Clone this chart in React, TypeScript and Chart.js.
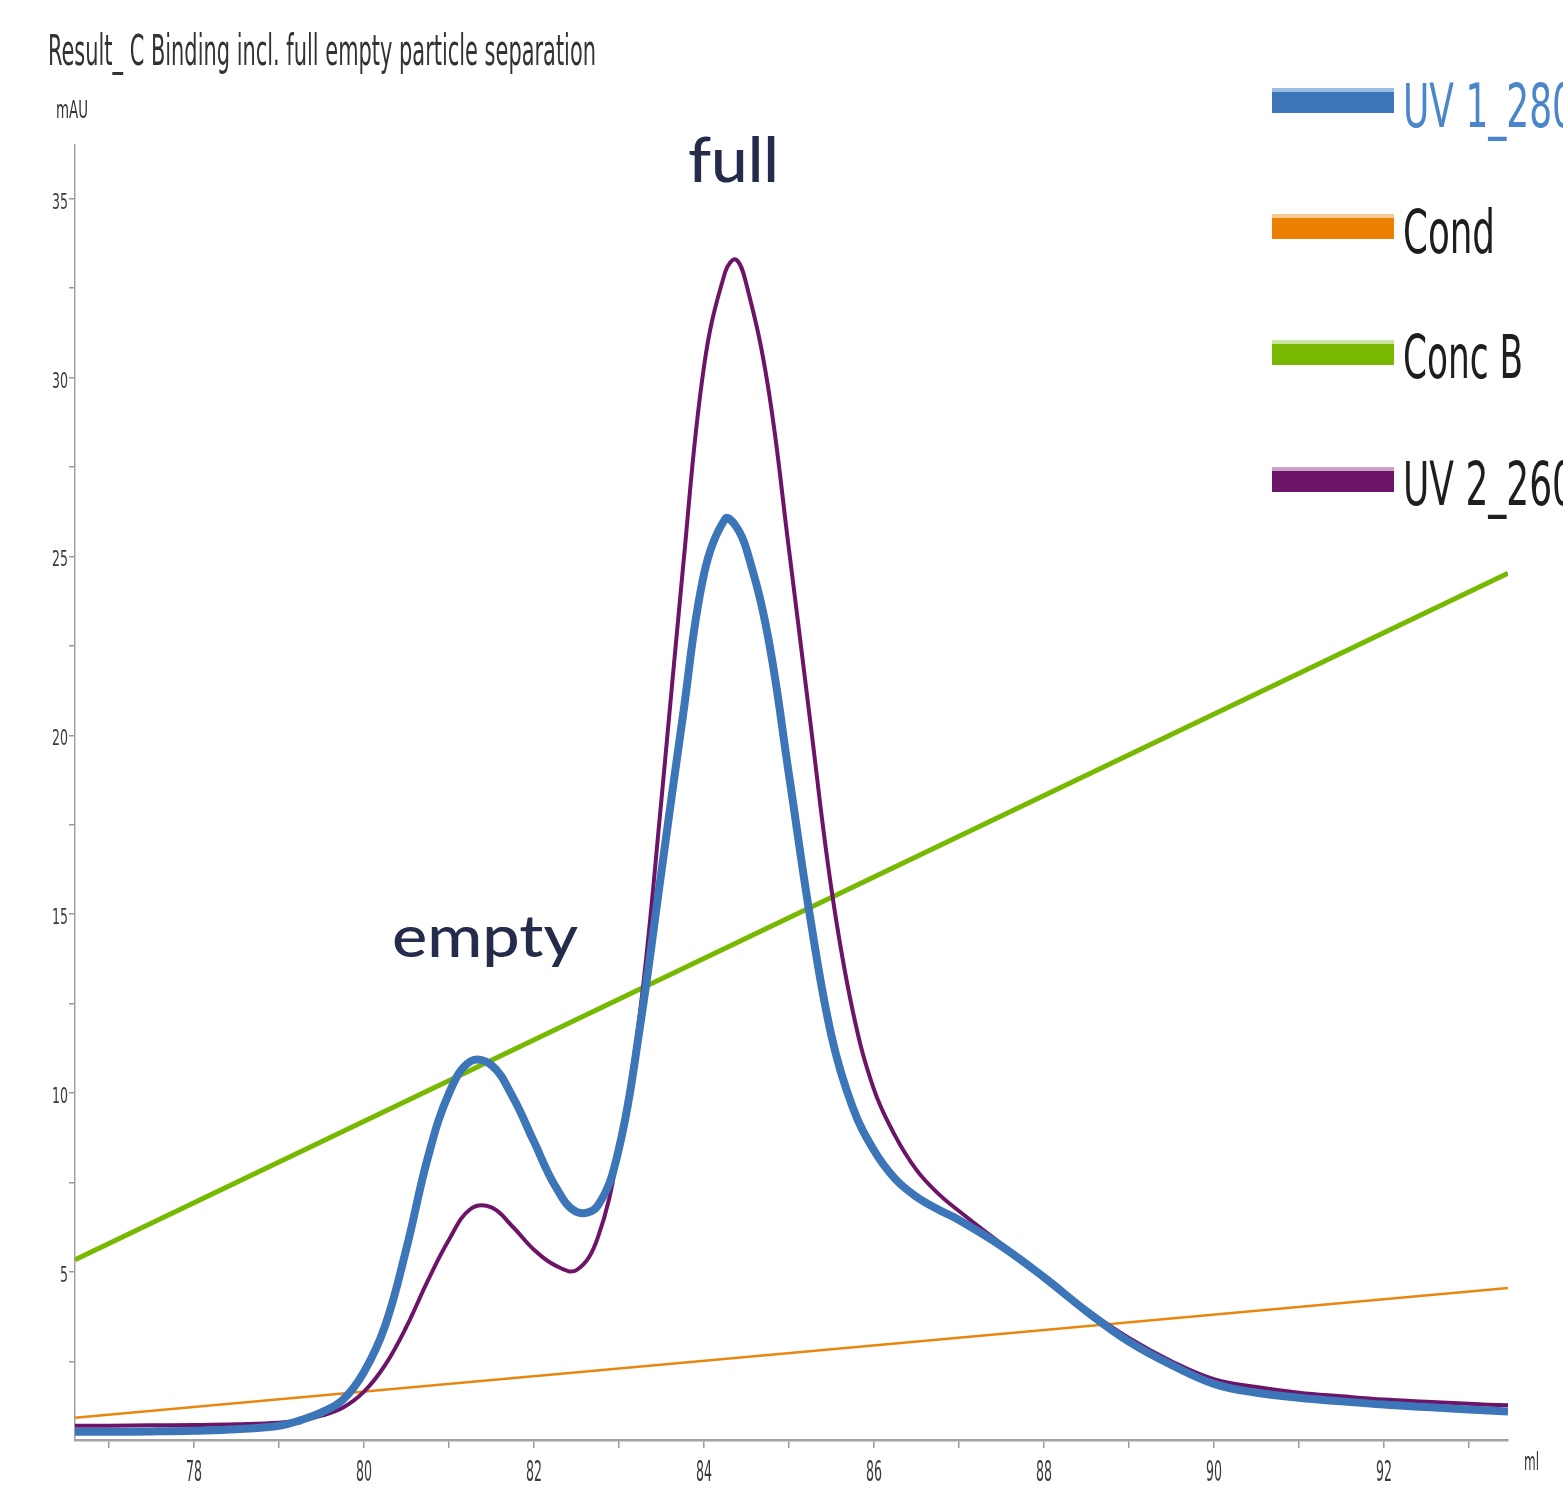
import React, { useEffect, useRef } from 'react';
import { Chart, registerables } from 'chart.js';

Chart.register(...registerables);

// Elution volume (ml)
const volumes = [
  76.6, 77, 77.5, 78, 78.5, 79, 79.25, 79.5, 79.75, 80,
  80.25, 80.5, 80.75, 81, 81.25, 81.5, 81.75, 82, 82.25, 82.5,
  82.75, 83, 83.25, 83.5, 83.75, 84, 84.25, 84.375, 84.5, 84.75,
  85, 85.25, 85.5, 85.75, 86, 86.25, 86.5, 86.75, 87, 87.5,
  88, 88.5, 89, 89.5, 90, 90.5, 91, 91.5, 92, 92.5,
  93, 93.46,
];

// UV 1_280 (mAU)
const uv1_280 = [
  0.53, 0.53, 0.54, 0.56, 0.6, 0.7, 0.85, 1.07, 1.42, 2.2,
  3.5, 5.66, 8.18, 9.99, 10.88, 10.78, 9.89, 8.64, 7.4, 6.68,
  6.85, 8.45, 11.9, 16.2, 20.5, 24.5, 26.05, 25.85, 25.2, 22.8,
  18.9, 14.9, 11.6, 9.6, 8.4, 7.6, 7.1, 6.75, 6.45, 5.72,
  4.85, 3.9, 3.05, 2.4, 1.87, 1.62, 1.48, 1.38, 1.29, 1.22,
  1.15, 1.1,
];

// UV 2_260 (mAU)
const uv2_260 = [
  0.7, 0.7, 0.71, 0.72, 0.74, 0.78, 0.85, 0.98, 1.2, 1.65,
  2.4, 3.47, 4.75, 5.9, 6.75, 6.8, 6.26, 5.62, 5.18, 5.05,
  5.95, 8.45, 12.3, 18.2, 24.6, 30.3, 32.95, 33.3, 32.6, 29.8,
  25.2, 20.4, 15.7, 12.3, 10.1, 8.8, 7.85, 7.2, 6.7, 5.78,
  4.88, 3.95, 3.15, 2.5, 2.0, 1.78, 1.62, 1.52, 1.43, 1.37,
  1.31, 1.27,
];

// Conductivity and Conc B (straight gradient lines)
const condVolumes = [76.6, 93.46];
const cond = [0.92, 4.55];
const concBVolumes = [76.6, 93.46];
const concB = [5.34, 24.53];

// Axes
const xTickValues = [77, 78, 79, 80, 81, 82, 83, 84, 85, 86, 87, 88, 89, 90, 91, 92, 93];
const xLabelValues = [78, 80, 82, 84, 86, 88, 90, 92];
const yTickValues = [2.5, 5, 7.5, 10, 12.5, 15, 17.5, 20, 22.5, 25, 27.5, 30, 32.5, 35];
const yLabelValues = [5, 10, 15, 20, 25, 30, 35];

const titleText = 'Result_ C Binding incl. full empty particle separation';
const legendItems = [
  { label: 'UV 1_280', color: '#3d75b9', light: '#9dbde2', text: '#4a86c9' },
  { label: 'Cond', color: '#ec8000', light: '#f7c992', text: '#1e1e1e' },
  { label: 'Conc B', color: '#78b800', light: '#cbe4a2', text: '#1e1e1e' },
  { label: 'UV 2_260', color: '#6e1468', light: '#c9a2c8', text: '#1e1e1e' },
];

const NARROW = "'Liberation Sans Narrow', 'DejaVu Sans Condensed', 'Liberation Sans', Arial, sans-serif";
const ANNOT = "Lato, 'Open Sans', 'Noto Sans', sans-serif";

function drawText(
  ctx: CanvasRenderingContext2D,
  s: string,
  x: number,
  y: number,
  size: number,
  family: string,
  color: string,
  targetW: number | null,
  align: CanvasTextAlign = 'left',
  weight = 'normal'
) {
  ctx.save();
  ctx.font = `${weight} ${size}px ${family}`;
  const w = ctx.measureText(s).width;
  const sx = targetW && w > 0 ? targetW / w : 1;
  ctx.translate(x, y);
  ctx.scale(sx, 1);
  ctx.fillStyle = color;
  ctx.textBaseline = 'alphabetic';
  ctx.textAlign = align;
  ctx.fillText(s, 0, 0);
  ctx.restore();
}

const textPlugin = {
  id: 'customTexts',
  afterDraw(chart: any) {
    const ctx: CanvasRenderingContext2D = chart.ctx;
    const xs = chart.scales.x;
    const ys = chart.scales.y;

    // title
    drawText(ctx, titleText, 48, 65, 43, NARROW, '#333333', 548, 'left');
    // axis units
    drawText(ctx, 'mAU', 56, 118, 24, NARROW, '#333333', 32, 'left');
    drawText(ctx, 'ml', 1524, 1470, 24, NARROW, '#333333', 15, 'left');

    // y labels
    yLabelValues.forEach((v) => {
      const py = ys.getPixelForValue(v);
      const s = String(v);
      drawText(ctx, s, 68, py + 10, 22, NARROW, '#3a3a3a', 8 * s.length, 'right');
    });
    // x labels
    xLabelValues.forEach((v) => {
      const px = xs.getPixelForValue(v);
      const s = String(v);
      drawText(ctx, s, px, 1481, 28, NARROW, '#3a3a3a', 16, 'center');
    });

    // legend
    const barTops = [88, 214, 340, 467];
    const baselines = [127, 253, 378, 505];
    const widths = [172, 92, 120, 172];
    legendItems.forEach((it, i) => {
      const t = barTops[i];
      ctx.fillStyle = it.light;
      ctx.fillRect(1272, t, 122, 4);
      ctx.fillStyle = it.color;
      ctx.fillRect(1272, t + 4, 122, 21);
      drawText(ctx, it.label, 1403, baselines[i], 60, NARROW, it.text, widths[i], 'left');
    });

    // annotations
    drawText(ctx, 'full', 688, 182, 62, ANNOT, '#252b4b', 91, 'left', '500');
    drawText(ctx, 'empty', 392, 957, 58, ANNOT, '#252b4b', 186, 'left', '500');
  },
};

export default function App() {
  const canvasRef = useRef<HTMLCanvasElement | null>(null);

  useEffect(() => {
    const canvas = canvasRef.current;
    if (!canvas) return;
    const toPts = (xsArr: number[], ysArr: number[]) => xsArr.map((x, i) => ({ x, y: ysArr[i] }));

    const chart = new Chart(canvas, {
      type: 'line',
      data: {
        datasets: [
          {
            label: 'Cond',
            data: toPts(condVolumes, cond),
            borderColor: '#e8870f',
            borderWidth: 2.5,
            pointRadius: 0,
            order: 4,
          },
          {
            label: 'Conc B',
            data: toPts(concBVolumes, concB),
            borderColor: '#77b900',
            borderWidth: 5,
            pointRadius: 0,
            order: 3,
          },
          {
            label: 'UV 2_260',
            data: toPts(volumes, uv2_260),
            borderColor: '#6d1468',
            borderWidth: 4,
            pointRadius: 0,
            tension: 0.4,
            order: 2,
          },
          {
            label: 'UV 1_280',
            data: toPts(volumes, uv1_280),
            borderColor: '#3d75b9',
            borderWidth: 8,
            pointRadius: 0,
            tension: 0.4,
            order: 1,
          },
        ],
      } as any,
      options: {
        responsive: false,
        animation: false,
        layout: { padding: { left: 0, top: 145, right: 55, bottom: 0 } },
        plugins: {
          legend: { display: false },
          title: { display: false },
          tooltip: { enabled: false },
        },
        scales: {
          x: {
            type: 'linear',
            min: 76.6,
            max: 93.46,
            ticks: { display: false },
            afterBuildTicks: (s: any) => {
              s.ticks = xTickValues.map((v) => ({ value: v }));
            },
            afterFit: (s: any) => {
              s.height = 62;
            },
            grid: {
              drawOnChartArea: false,
              drawTicks: true,
              tickLength: 8,
              color: '#9a9a9a',
              lineWidth: 1.5,
            },
            border: { display: true, color: '#a3a3a3', width: 2.5 },
          },
          y: {
            type: 'linear',
            min: 0.3,
            max: 36.5,
            ticks: { display: false },
            afterBuildTicks: (s: any) => {
              s.ticks = yTickValues.map((v) => ({ value: v }));
            },
            afterFit: (s: any) => {
              s.width = 75;
            },
            grid: {
              drawOnChartArea: false,
              drawTicks: true,
              tickLength: 6,
              color: '#9a9a9a',
              lineWidth: 1.5,
            },
            border: { display: true, color: '#a3a3a3', width: 1.5 },
          },
        },
      } as any,
      plugins: [textPlugin],
    });

    return () => chart.destroy();
  }, []);

  return (
    <div style={{ position: 'absolute', left: 0, top: 0, width: 1563, height: 1502, background: '#ffffff' }}>
      <canvas ref={canvasRef} width={1563} height={1502} style={{ display: 'block' }} />
    </div>
  );
}
